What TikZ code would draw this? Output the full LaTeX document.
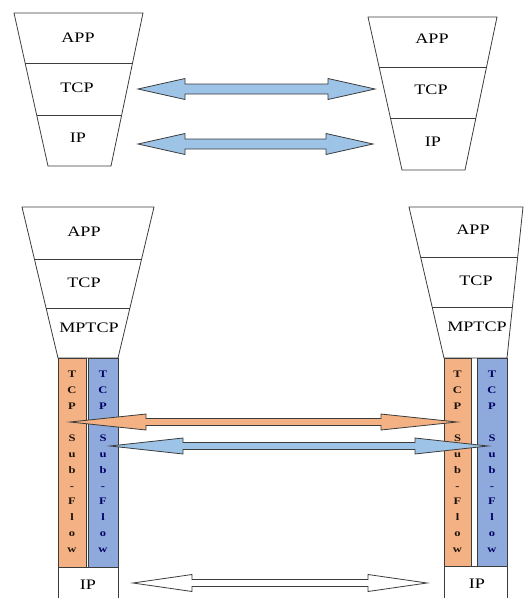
\documentclass[tikz,border=0pt]{standalone}
\usepackage{fontspec}
\newfontfamily\layerfont{Liberation Serif}[FakeStretch=1.25]
\usetikzlibrary{calc}
\definecolor{suborange}{HTML}{F4B183}
\definecolor{subblue}{HTML}{8EA9DB}
\definecolor{pipeblue}{HTML}{9DC3E6}
\definecolor{edge}{HTML}{3C3C3C}
\tikzset{
  layer/.style={font=\layerfont\fontsize{14.5}{16}\selectfont, inner sep=0pt},
  flowtext/.style={font=\layerfont\bfseries\fontsize{10}{15.9}\selectfont, align=center, inner sep=0pt},
  box/.style={draw=edge, line width=0.8pt},
  pipe/.style={draw=edge, line width=0.8pt, fill=pipeblue},
}
% block arrow with two heads: [style]{from}{to}{head length}{shaft half}{head half}
\newcommand{\flowarrow}[6][]{%
  \draw[#1] let \p1=(#2), \p2=(#3) in
    (\p1) -- (\x1+#4,\y1+#6) -- (\x1+#4,\y1+#5) -- (\x2-#4,\y2+#5) -- (\x2-#4,\y2+#6)
    -- (\p2) -- (\x2-#4,\y2-#6) -- (\x2-#4,\y2-#5) -- (\x1+#4,\y1-#5) -- (\x1+#4,\y1-#6) -- cycle;}
\begin{document}
\begin{tikzpicture}[x=1pt,y=-1pt]
		\useasboundingbox (0,0) rectangle (532,598);

		% plain TCP, left
		\coordinate (a1) at (14,13);
		\coordinate (b1) at (143,13);
		\coordinate (c1) at (111,166);
		\coordinate (d1) at (48,166);
		\draw[box] (a1) -- (b1) -- (c1) -- (d1) -- cycle;
		\draw[box] ($(a1)!0.33!(d1)$) -- ($(b1)!0.33!(c1)$);
		\draw[box] ($(a1)!0.67!(d1)$) -- ($(b1)!0.67!(c1)$);
		\node[layer] (app1) at (78,38) {APP};
		\node[layer] (tcp1) at (77,88) {TCP};
		\node[layer] (ip1) at (78,138) {IP};

		% plain TCP, right
		\coordinate (a2) at (368,17);
		\coordinate (b2) at (497,17);
		\coordinate (c2) at (465,170);
		\coordinate (d2) at (402,170);
		\draw[box] (a2) -- (b2) -- (c2) -- (d2) -- cycle;
		\draw[box] ($(a2)!0.33!(d2)$) -- ($(b2)!0.33!(c2)$);
		\draw[box] ($(a2)!0.66!(d2)$) -- ($(b2)!0.66!(c2)$);
		\node[layer] (app2) at (432,39) {APP};
		\node[layer] (tcp2) at (431,90) {TCP};
		\node[layer] (ip2) at (433,142) {IP};

		\coordinate (tcpL) at (138,89);
		\coordinate (tcpR) at (375,89);
		\coordinate (ipL) at (138,144);
		\coordinate (ipR) at (373,144);
		\flowarrow[pipe]{tcpL}{tcpR}{47pt}{5pt}{10.5pt}
		\flowarrow[pipe]{ipL}{ipR}{47pt}{5pt}{10.5pt}

		% MPTCP, left
		\coordinate (a3) at (22,207);
		\coordinate (b3) at (154,207);
		\coordinate (c3) at (118,358);
		\coordinate (d3) at (58,358);
		\draw[box] (a3) -- (b3) -- (c3) -- (d3) -- cycle;
		\draw[box] ($(a3)!0.344!(d3)$) -- ($(b3)!0.344!(c3)$);
		\draw[box] ($(a3)!0.669!(d3)$) -- ($(b3)!0.669!(c3)$);
		\node[layer] (app3) at (84,232) {APP};
		\node[layer] (tcp3) at (84,283) {TCP};
		\node[layer] (mp3) at (89,328) {MPTCP};
		\draw[box, fill=suborange] (58,358) rectangle (86,567);
		\draw[box, fill=subblue] (88.5,358) rectangle (118,567);
		\node[flowtext, text=black!85!brown] (sf3) at (72,462) {T\\C\\P\\[15.9pt]S\\u\\b\\-\\F\\l\\o\\w};
		\node[flowtext, text=blue!40!black] (sg3) at (103,462) {T\\C\\P\\[15.9pt]S\\u\\b\\-\\F\\l\\o\\w};
		\draw[box] (58,567) rectangle (118,605);
		\node[layer] (ip3) at (88,585) {IP};

		% MPTCP, right
		\coordinate (a4) at (409,207);
		\coordinate (b4) at (523,207);
		\coordinate (c4) at (507,358);
		\coordinate (d4) at (444,358);
		\draw[box] (a4) -- (b4) -- (c4) -- (d4) -- cycle;
		\draw[box] ($(a4)!0.331!(d4)$) -- ($(b4)!0.331!(c4)$);
		\draw[box] ($(a4)!0.662!(d4)$) -- ($(b4)!0.662!(c4)$);
		\node[layer] (app4) at (473,230) {APP};
		\node[layer] (tcp4) at (476,281) {TCP};
		\node[layer] (mp4) at (477,327) {MPTCP};
		\draw[box, fill=suborange] (444,358) rectangle (471,566);
		\draw[box, fill=subblue] (477,358) rectangle (507,566);
		\node[flowtext, text=black!85!brown] (sf4) at (457.5,462) {T\\C\\P\\[15.9pt]S\\u\\b\\-\\F\\l\\o\\w};
		\node[flowtext, text=blue!40!black] (sg4) at (492,462) {T\\C\\P\\[15.9pt]S\\u\\b\\-\\F\\l\\o\\w};
		\draw[box] (444,566) rectangle (507,605);
		\node[layer] (ip4) at (477,584) {IP};

		\coordinate (subL) at (70,422);
		\coordinate (subR) at (457,422);
		\coordinate (subL2) at (110,446);
		\coordinate (subR2) at (488,446);
		\coordinate (lowL) at (133,583);
		\coordinate (lowR) at (427,583);
		\flowarrow[pipe, fill=suborange]{subL}{subR}{76pt}{3.5pt}{8pt}
		\flowarrow[pipe]{subL2}{subR2}{73pt}{3.5pt}{8pt}
		\flowarrow[pipe, fill=white]{lowL}{lowR}{59pt}{3.5pt}{8.5pt}
\end{tikzpicture}
\end{document}
